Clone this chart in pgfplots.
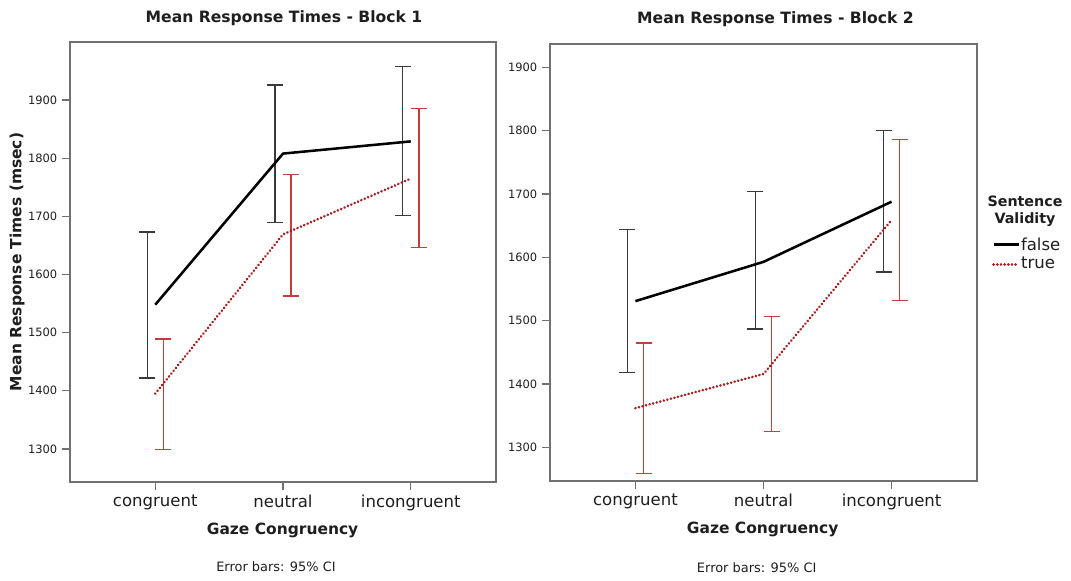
\documentclass[border=0pt]{standalone}
\usepackage{fontspec}
\setmainfont{DejaVu Sans}
\usepackage{pgfplots}
\pgfplotsset{compat=1.18}
\definecolor{frame}{HTML}{707070}
\definecolor{darkred}{HTML}{A31F1F}
\definecolor{barred}{HTML}{C43C3C}
\definecolor{barblack}{HTML}{3A3A3A}
\definecolor{txt}{HTML}{1E1E1E}
\pgfplotsset{
 spssaxis/.style={
   scale only axis, anchor=south west,
   xmin=-0.667, xmax=2.667,
   xtick={0,1,2}, xticklabels={congruent,neutral,incongruent},
   ytick={1300,1400,...,1900},
   xtick pos=lower, ytick pos=left, tick align=outside,
   major tick length=6pt,
   axis line style={draw=frame, line width=1.1pt},
   tick style={draw=frame, line width=1pt},
   yticklabel style={font=\fontsize{8.6}{10}\selectfont, text=txt, /pgf/number format/1000 sep={}},
   xticklabel style={font=\fontsize{12.4}{14}\selectfont, text=txt},
   /pgf/number format/assume math mode=true,
   clip=false, unbounded coords=jump,
 },
 meanfalse/.style={black, line width=1.9pt, mark=none},
 meantrue/.style={darkred, line width=2.1pt, line cap=round, dash pattern=on 0.05pt off 2.7pt, mark=none},
 ebfalse/.style={barblack, line width=0.9pt, forget plot, mark=-, mark size=6pt, mark options={solid, line width=0.9pt}},
 ebtrue/.style={barred, line width=1.1pt, forget plot, mark=-, mark size=6pt, mark options={solid, line width=1pt}},
}
\begin{document}
\begin{tikzpicture}
\useasboundingbox (0,0) rectangle (803.25pt,435.75pt);
% Block 1
\begin{axis}[spssaxis, at={(52.5pt,74.25pt)}, width=319.5pt, height=330pt, ymin=1243, ymax=2000]
% 95% CI, false (lower, upper)
\addplot[ebfalse] coordinates {(-0.063,1422) (-0.063,1673) (nan,nan) (0.937,1690) (0.937,1926) (nan,nan) (1.937,1702) (1.937,1958)};
% 95% CI, true
\addplot[ebtrue] coordinates {(0.063,1299) (0.063,1489) (nan,nan) (1.063,1563) (1.063,1772) (nan,nan) (2.063,1646) (2.063,1886)};
\addplot[meanfalse] coordinates {(0,1548) (1,1808) (2,1829)};
\addplot[meantrue] coordinates {(0,1395) (1,1669) (2,1765)};
\end{axis}
% Block 2
\begin{axis}[spssaxis, at={(412.5pt,75pt)}, width=320.25pt, height=327.75pt, ymin=1247, ymax=1937,
  legend style={at={(1.035,0.519)}, anchor=west, draw=none, fill=none, font=\fontsize{12.4}{14}\selectfont, inner sep=0pt, row sep=3pt, nodes={inner sep=0.5pt, anchor=west, text=txt}},
  legend cell align=left,
  legend image code/.code={\draw[#1] (0pt,0pt) -- (19pt,0pt);}]
\addplot[ebfalse] coordinates {(-0.063,1418) (-0.063,1644) (nan,nan) (0.937,1487) (0.937,1704) (nan,nan) (1.937,1577) (1.937,1801)};
\addplot[ebtrue] coordinates {(0.063,1259) (0.063,1465) (nan,nan) (1.063,1325) (1.063,1507) (nan,nan) (2.063,1532) (2.063,1786)};
\addplot[meanfalse] coordinates {(0,1531) (1,1593) (2,1688)};
\addplot[meantrue] coordinates {(0,1362) (1,1416) (2,1659)};
\legend{false,true}
\end{axis}
\begin{scope}[every node/.style={text=txt}]
\node[font=\bfseries\fontsize{11.7}{14}\selectfont] at (213pt,422.25pt) {Mean Response Times - Block 1};
\node[font=\bfseries\fontsize{11.7}{14}\selectfont] at (581.6pt,421.5pt) {Mean Response Times - Block 2};
\node[font=\bfseries\fontsize{11.6}{14}\selectfont, rotate=90] at (12.75pt,239.25pt) {Mean Response Times (msec)};
\node[font=\bfseries\fontsize{11.6}{14}\selectfont] at (211.9pt,38.25pt) {Gaze Congruency};
\node[font=\bfseries\fontsize{11.6}{14}\selectfont] at (572pt,39pt) {Gaze Congruency};
\node[font=\fontsize{9.7}{12}\selectfont] at (207pt,10.5pt) {Error bars: 95\% CI};
\node[font=\fontsize{9.7}{12}\selectfont] at (567.5pt,9.75pt) {Error bars: 95\% CI};
\node[font=\bfseries\fontsize{10.7}{12.8}\selectfont, align=center] at (768.75pt,277pt) {Sentence\\Validity};
\end{scope}
\end{tikzpicture}
\end{document}
